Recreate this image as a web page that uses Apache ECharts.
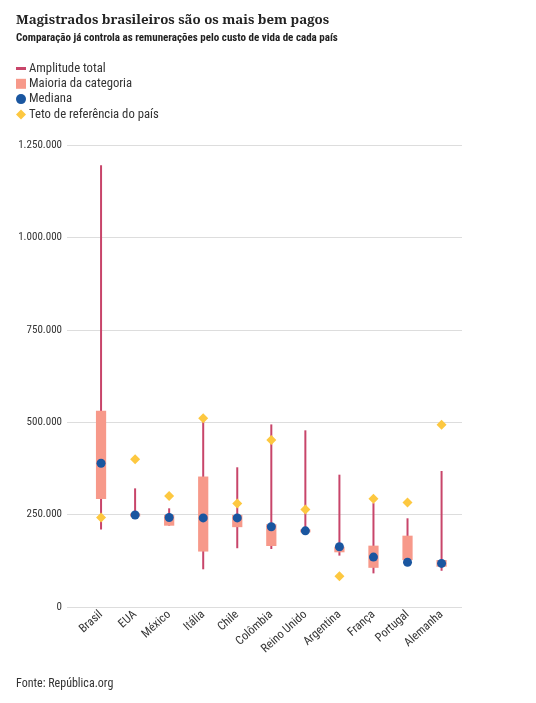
<!DOCTYPE html>
<html><head><meta charset="utf-8">
<script src="https://cdn.jsdelivr.net/npm/echarts@6/dist/echarts.min.js"></script>
<style>html,body{margin:0;padding:0;background:#fff}#c{width:536px;height:703px}</style>
</head><body><div id="c"></div>
<script>
var categories = ['Brasil','EUA','México','Itália','Chile','Colômbia','Reino Unido','Argentina','França','Portugal','Alemanha'];
var rangeMin = [210000, 249000, 220000, 102000, 159000, 157000, 206000, 139000, 91000, 121000, 98000];
var rangeMax = [1195000, 321000, 267000, 505000, 378000, 494000, 478000, 358000, 281000, 240000, 368000];
var boxLow  = [292000, 245000, 220000, 150000, 216000, 165000, 202000, 148000, 106000, 127000, 109000];
var boxHigh = [531000, 253000, 249000, 353000, 249000, 224000, 210000, 163000, 166000, 193000, 127000];
var median  = [389000, 249000, 242000, 241000, 241000, 217000, 206000, 163000, 135000, 121000, 118000];
var teto    = [242000, 400000, 300000, 511000, 280000, 452000, 264000, 83000, 293000, 283000, 493000];
var yTicks = [0, 250000, 500000, 750000, 1000000, 1250000];

var C_LINE = '#c8456a', C_BOX = '#f7998a', C_MED = '#1a56a0', C_TETO = '#fdc840';
var FONT = "'Roboto Condensed','Open Sans Condensed','DejaVu Sans Condensed',sans-serif";

function fmt(v){ return String(v).replace(/\B(?=(\d{3})+(?!\d))/g, '.'); }

var lineData = categories.map(function(c,i){ return [i, rangeMin[i], rangeMax[i]]; });
var boxData = categories.map(function(c,i){ return [i, boxLow[i], boxHigh[i]]; });
var medData = categories.map(function(c,i){ return [i, median[i]]; });
var tetoData = categories.map(function(c,i){ return [i, teto[i]]; });

var chart = echarts.init(document.getElementById('c'), null, {renderer:'canvas'});
chart.setOption({
  animation: false,
  title: [
    {text: 'Magistrados brasileiros são os mais bem pagos', left: 16, top: 14, padding: 0,
     textStyle: {fontFamily: "'Noto Serif',serif", fontWeight: 'bold', fontSize: 13.3, color: '#222'}},
    {text: 'Comparação já controla as remunerações pelo custo de vida de cada país', left: 16, top: 33, padding: 0,
     textStyle: {fontFamily: FONT, fontWeight: 'bold', fontSize: 11, color: '#222'}},
    {text: 'Fonte: República.org', left: 16, top: 678, padding: 0,
     textStyle: {fontFamily: FONT, fontWeight: 'normal', fontSize: 12, color: '#333'}}
  ],
  legend: {
    orient: 'vertical', left: 11, top: 57, itemWidth: 10, itemHeight: 10, itemGap: 2.3,
    textStyle: {fontFamily: FONT, fontSize: 12.7, lineHeight: 12, color: '#333', padding: [0,0,0,-2]},
    selectedMode: false,
    data: [
      {name: 'Amplitude total', icon: 'path://M0,0L10,0L10,3L0,3Z'},
      {name: 'Maioria da categoria', icon: 'rect'},
      {name: 'Mediana', icon: 'circle'},
      {name: 'Teto de referência do país', icon: 'diamond'}
    ]
  },
  grid: {left: 67, right: 74, top: 145, bottom: 96, containLabel: false},
  xAxis: {
    type: 'value', min: -1, max: 10.6, interval: 1,
    axisLine: {show: false}, axisTick: {show: false}, splitLine: {show: false},
    axisLabel: {
      rotate: 42, margin: 6, fontFamily: FONT, fontSize: 12, color: '#333', showMaxLabel: false,
      formatter: function(v){ return (Number.isInteger(v) && v >= 0 && v < categories.length) ? categories[v] : ''; }
    }
  },
  yAxis: {
    type: 'value', min: 0, max: 1250000, interval: 250000,
    axisLine: {show: false}, axisTick: {show: false},
    splitLine: {lineStyle: {color: '#dddddd', width: 1}},
    axisLabel: {margin: 5, fontFamily: FONT, fontSize: 11, color: '#333', formatter: fmt}
  },
  series: [
    {
      name: 'Amplitude total', type: 'custom', data: lineData, itemStyle: {color: C_LINE},
      encode: {x: 0, y: [1, 2]}, z: 2,
      renderItem: function(params, api){
        var a = api.coord([api.value(0), api.value(1)]);
        var b = api.coord([api.value(0), api.value(2)]);
        return {type: 'line', shape: {x1: a[0], y1: a[1], x2: b[0], y2: b[1]},
                style: {stroke: C_LINE, lineWidth: 2}};
      }
    },
    {
      name: 'Maioria da categoria', type: 'custom', data: boxData, itemStyle: {color: C_BOX},
      encode: {x: 0, y: [1, 2]}, z: 3,
      renderItem: function(params, api){
        var a = api.coord([api.value(0), api.value(1)]);
        var b = api.coord([api.value(0), api.value(2)]);
        var w = api.size([1, 0])[0] * 0.3;
        return {type: 'rect', shape: {x: a[0] - w/2, y: b[1], width: w, height: a[1] - b[1]},
                style: {fill: C_BOX}};
      }
    },
    {
      name: 'Mediana', type: 'scatter', data: medData, symbol: 'circle', symbolSize: 9,
      itemStyle: {color: C_MED, opacity: 1}, z: 4
    },
    {
      name: 'Teto de referência do país', type: 'scatter', data: tetoData, symbol: 'diamond', symbolSize: 10,
      itemStyle: {color: C_TETO, opacity: 1}, z: 5
    }
  ]
});
</script></body></html>
